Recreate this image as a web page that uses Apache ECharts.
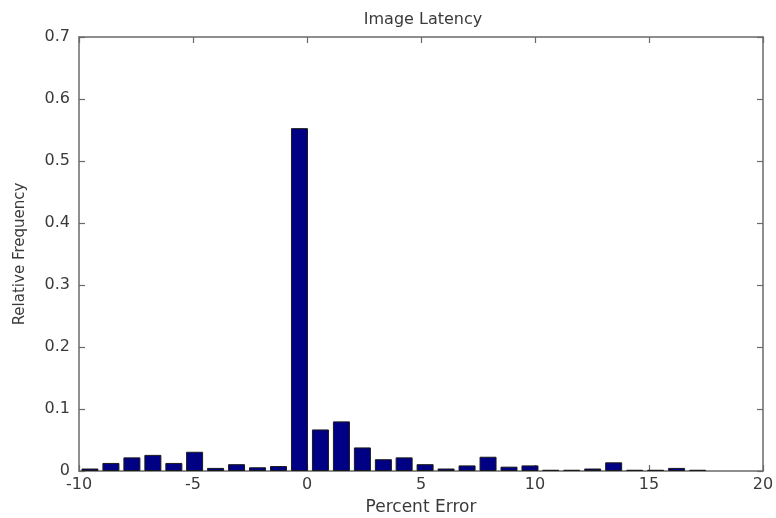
<!DOCTYPE html>
<html><head><meta charset="utf-8">
<script src="https://cdn.jsdelivr.net/npm/echarts@6/dist/echarts.min.js"></script>
<style>html,body{margin:0;padding:0;background:#fff}#c{width:776px;height:518px}</style>
</head><body><div id="c"></div>
<script>
var binCenters = [-9.52, -8.60, -7.68, -6.76, -5.84, -4.93, -4.01, -3.09, -2.17, -1.25,
  -0.33, 0.59, 1.51, 2.43, 3.35, 4.26, 5.18, 6.10, 7.02, 7.94,
  8.86, 9.78, 10.69, 11.61, 12.53, 13.45, 14.37, 15.29, 16.21, 17.13];
var relFreq = [0.004, 0.013, 0.022, 0.026, 0.013, 0.031, 0.005, 0.011, 0.006, 0.008,
  0.553, 0.067, 0.080, 0.038, 0.019, 0.022, 0.011, 0.004, 0.009, 0.023,
  0.007, 0.009, 0.002, 0.002, 0.004, 0.014, 0.002, 0.002, 0.005, 0.002];
var xTicks = [-10, -5, 0, 5, 10, 15, 20];
var yTicks = [0, 0.1, 0.2, 0.3, 0.4, 0.5, 0.6, 0.7];

var chart = echarts.init(document.getElementById('c'), null, {renderer: 'canvas'});
var font = 'DejaVu Sans, Verdana, sans-serif';
var txtCol = '#3a3a3a';
var axCol = '#6a6a6a';
var data = binCenters.map(function (x, i) { return [x, relFreq[i]]; });
var common = {
  axisLine: {show: true, onZero: false, lineStyle: {color: axCol, width: 1.5}},
  axisTick: {show: true, inside: true, length: 6, lineStyle: {color: axCol, width: 1.2}},
  splitLine: {show: false}
};
chart.setOption({
  animation: false,
  backgroundColor: '#fff',
  title: {text: 'Image Latency', left: 418, textAlign: 'center', top: 7,
    textStyle: {fontFamily: font, fontSize: 16, fontWeight: 'normal', color: txtCol}},
  grid: {left: 79, right: 13, top: 37, bottom: 47, containLabel: false, outerBoundsMode: 'none'},
  xAxis: [
    Object.assign({type: 'value', min: xTicks[0], max: xTicks[xTicks.length - 1], interval: 5,
      name: 'Percent Error', nameLocation: 'middle', nameGap: 28,
      nameTextStyle: {fontFamily: font, fontSize: 17, color: txtCol},
      axisLabel: {fontFamily: font, fontSize: 16, color: txtCol, margin: 6}}, common),
    Object.assign({type: 'value', position: 'top', min: xTicks[0], max: xTicks[xTicks.length - 1], interval: 5,
      axisLabel: {show: false}}, common)
  ],
  yAxis: [
    Object.assign({type: 'value', min: 0, max: yTicks[yTicks.length - 1], interval: 0.1,
      name: 'Relative Frequency', nameLocation: 'middle', nameGap: 51, nameRotate: 90,
      nameTextStyle: {fontFamily: font, fontSize: 15, color: txtCol},
      axisLabel: {fontFamily: font, fontSize: 16, color: txtCol, margin: 9,
        formatter: function (v) { return v === 0 ? '0' : v.toFixed(1); }}}, common),
    Object.assign({type: 'value', position: 'right', min: 0, max: yTicks[yTicks.length - 1], interval: 0.1,
      axisLabel: {show: false}}, common)
  ],
  series: [{
    type: 'bar',
    data: data,
    barWidth: 17,
    itemStyle: {color: '#000085', borderColor: '#1a1a1a', borderWidth: 1}
  }]
});
</script></body></html>
